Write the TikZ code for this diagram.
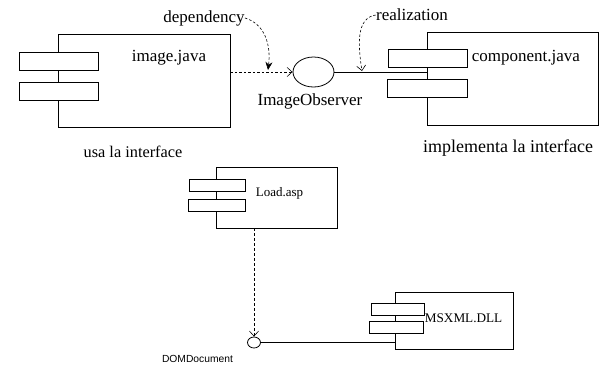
\documentclass[tikz,border=0pt]{standalone}
\usepackage{fontspec}
\setmainfont{Liberation Serif}
\newfontfamily\arialfont{Liberation Sans}
\usetikzlibrary{arrows.meta,shapes.geometric}
\begin{document}
\begin{tikzpicture}[x=1pt,y=-1pt,line width=0.8pt,
  compbox/.style={draw,rectangle,inner sep=0pt},
  portbox/.style={draw,fill=white,rectangle,inner sep=0pt},
  lbl/.style={inner sep=0pt,font=\fontsize{17}{20}\selectfont},
  smlbl/.style={inner sep=0pt,font=\fontsize{13.2}{15}\selectfont},
  dashln/.style={dash pattern=on 2.5pt off 2pt,line width=0.6pt},
  openhead/.style={-{Straight Barb[length=5pt,width=9pt,line width=0.6pt]}},
  fillhead/.style={-{Stealth[length=8pt,width=7pt]}}]
\useasboundingbox (0,0) rectangle (600,365);

% image.java component
\node[compbox,minimum width=172,minimum height=93] (img) at (144,80.5) {};
\node[portbox,minimum width=79,minimum height=18] (imgp1) at (59,61) {};
\node[portbox,minimum width=79,minimum height=18] (imgp2) at (58.5,91) {};
\node[lbl] (imgt) at (169,58) {image.java};
\node[lbl,font=\fontsize{16.3}{19}\selectfont] (usa) at (133,152) {usa la interface};

% interface
\node[draw,ellipse,minimum width=41,minimum height=30,inner sep=0pt] (obs) at (313.5,72) {};
\node[lbl] (obst) at (310,101) {ImageObserver};

% component.java
\node[compbox,minimum width=171,minimum height=93] (comp) at (512.5,78.5) {};
\node[portbox,minimum width=79,minimum height=18] (compp1) at (427.5,58) {};
\node[portbox,minimum width=80,minimum height=18] (compp2) at (427,88.5) {};
\node[lbl,anchor=west] (compt) at (471.5,58) {component.java};
\node[lbl,font=\fontsize{18}{21}\selectfont] (impl) at (508,148) {implementa la interface};

% labels
\node[lbl] (dep) at (204,18) {dependency};
\node[lbl] (real) at (412,15) {realization};

% connectors top
\coordinate (imgout) at (img.east |- obs.west);
\draw[dashln,openhead] (imgout) -- (obs.west);
\coordinate (compin) at (obs.east -| comp.west);
\draw (obs.east) -- (compin);
\coordinate (deptip) at (268,70);
\draw[dashln,fillhead] (dep.east) .. controls (265,24) and (271,45) .. (deptip);
\coordinate (realtip) at (362,71);
\draw[dashln,openhead] (real.west) .. controls (356,18) and (358,45) .. (realtip);

% Load.asp component
\node[compbox,minimum width=121,minimum height=61] (load) at (276.5,197.5) {};
\node[portbox,minimum width=56,minimum height=12] (loadp1) at (217,185) {};
\node[portbox,minimum width=57,minimum height=12] (loadp2) at (216.5,205) {};
\node[smlbl,font=\fontsize{13}{15}\selectfont] (loadt) at (279.5,193) {Load.asp};

% DOMDocument interface
\node[draw,ellipse,minimum width=13,minimum height=11,inner sep=0pt] (dom) at (254,342.5) {};
\node[inner sep=0pt,font=\arialfont\fontsize{10.3}{12}\selectfont] (domt) at (197.5,358.5) {DOMDocument};

% MSXML.DLL component
\node[compbox,minimum width=118,minimum height=57] (msx) at (454,320.5) {};
\node[portbox,minimum width=53,minimum height=12] (msxp1) at (397.5,309) {};
\node[portbox,minimum width=54,minimum height=12] (msxp2) at (396,327) {};
\node[smlbl,anchor=west] (msxt) at (424.5,318) {MSXML.DLL};

% connectors bottom
\coordinate (loadout) at (load.south -| dom.north);
\draw[dash pattern=on 3pt off 2pt,line width=0.6pt,openhead] (loadout) -- (dom.north);
\coordinate (msxin) at (dom.east -| msx.west);
\draw (dom.east) -- (msxin);
\end{tikzpicture}
\end{document}
